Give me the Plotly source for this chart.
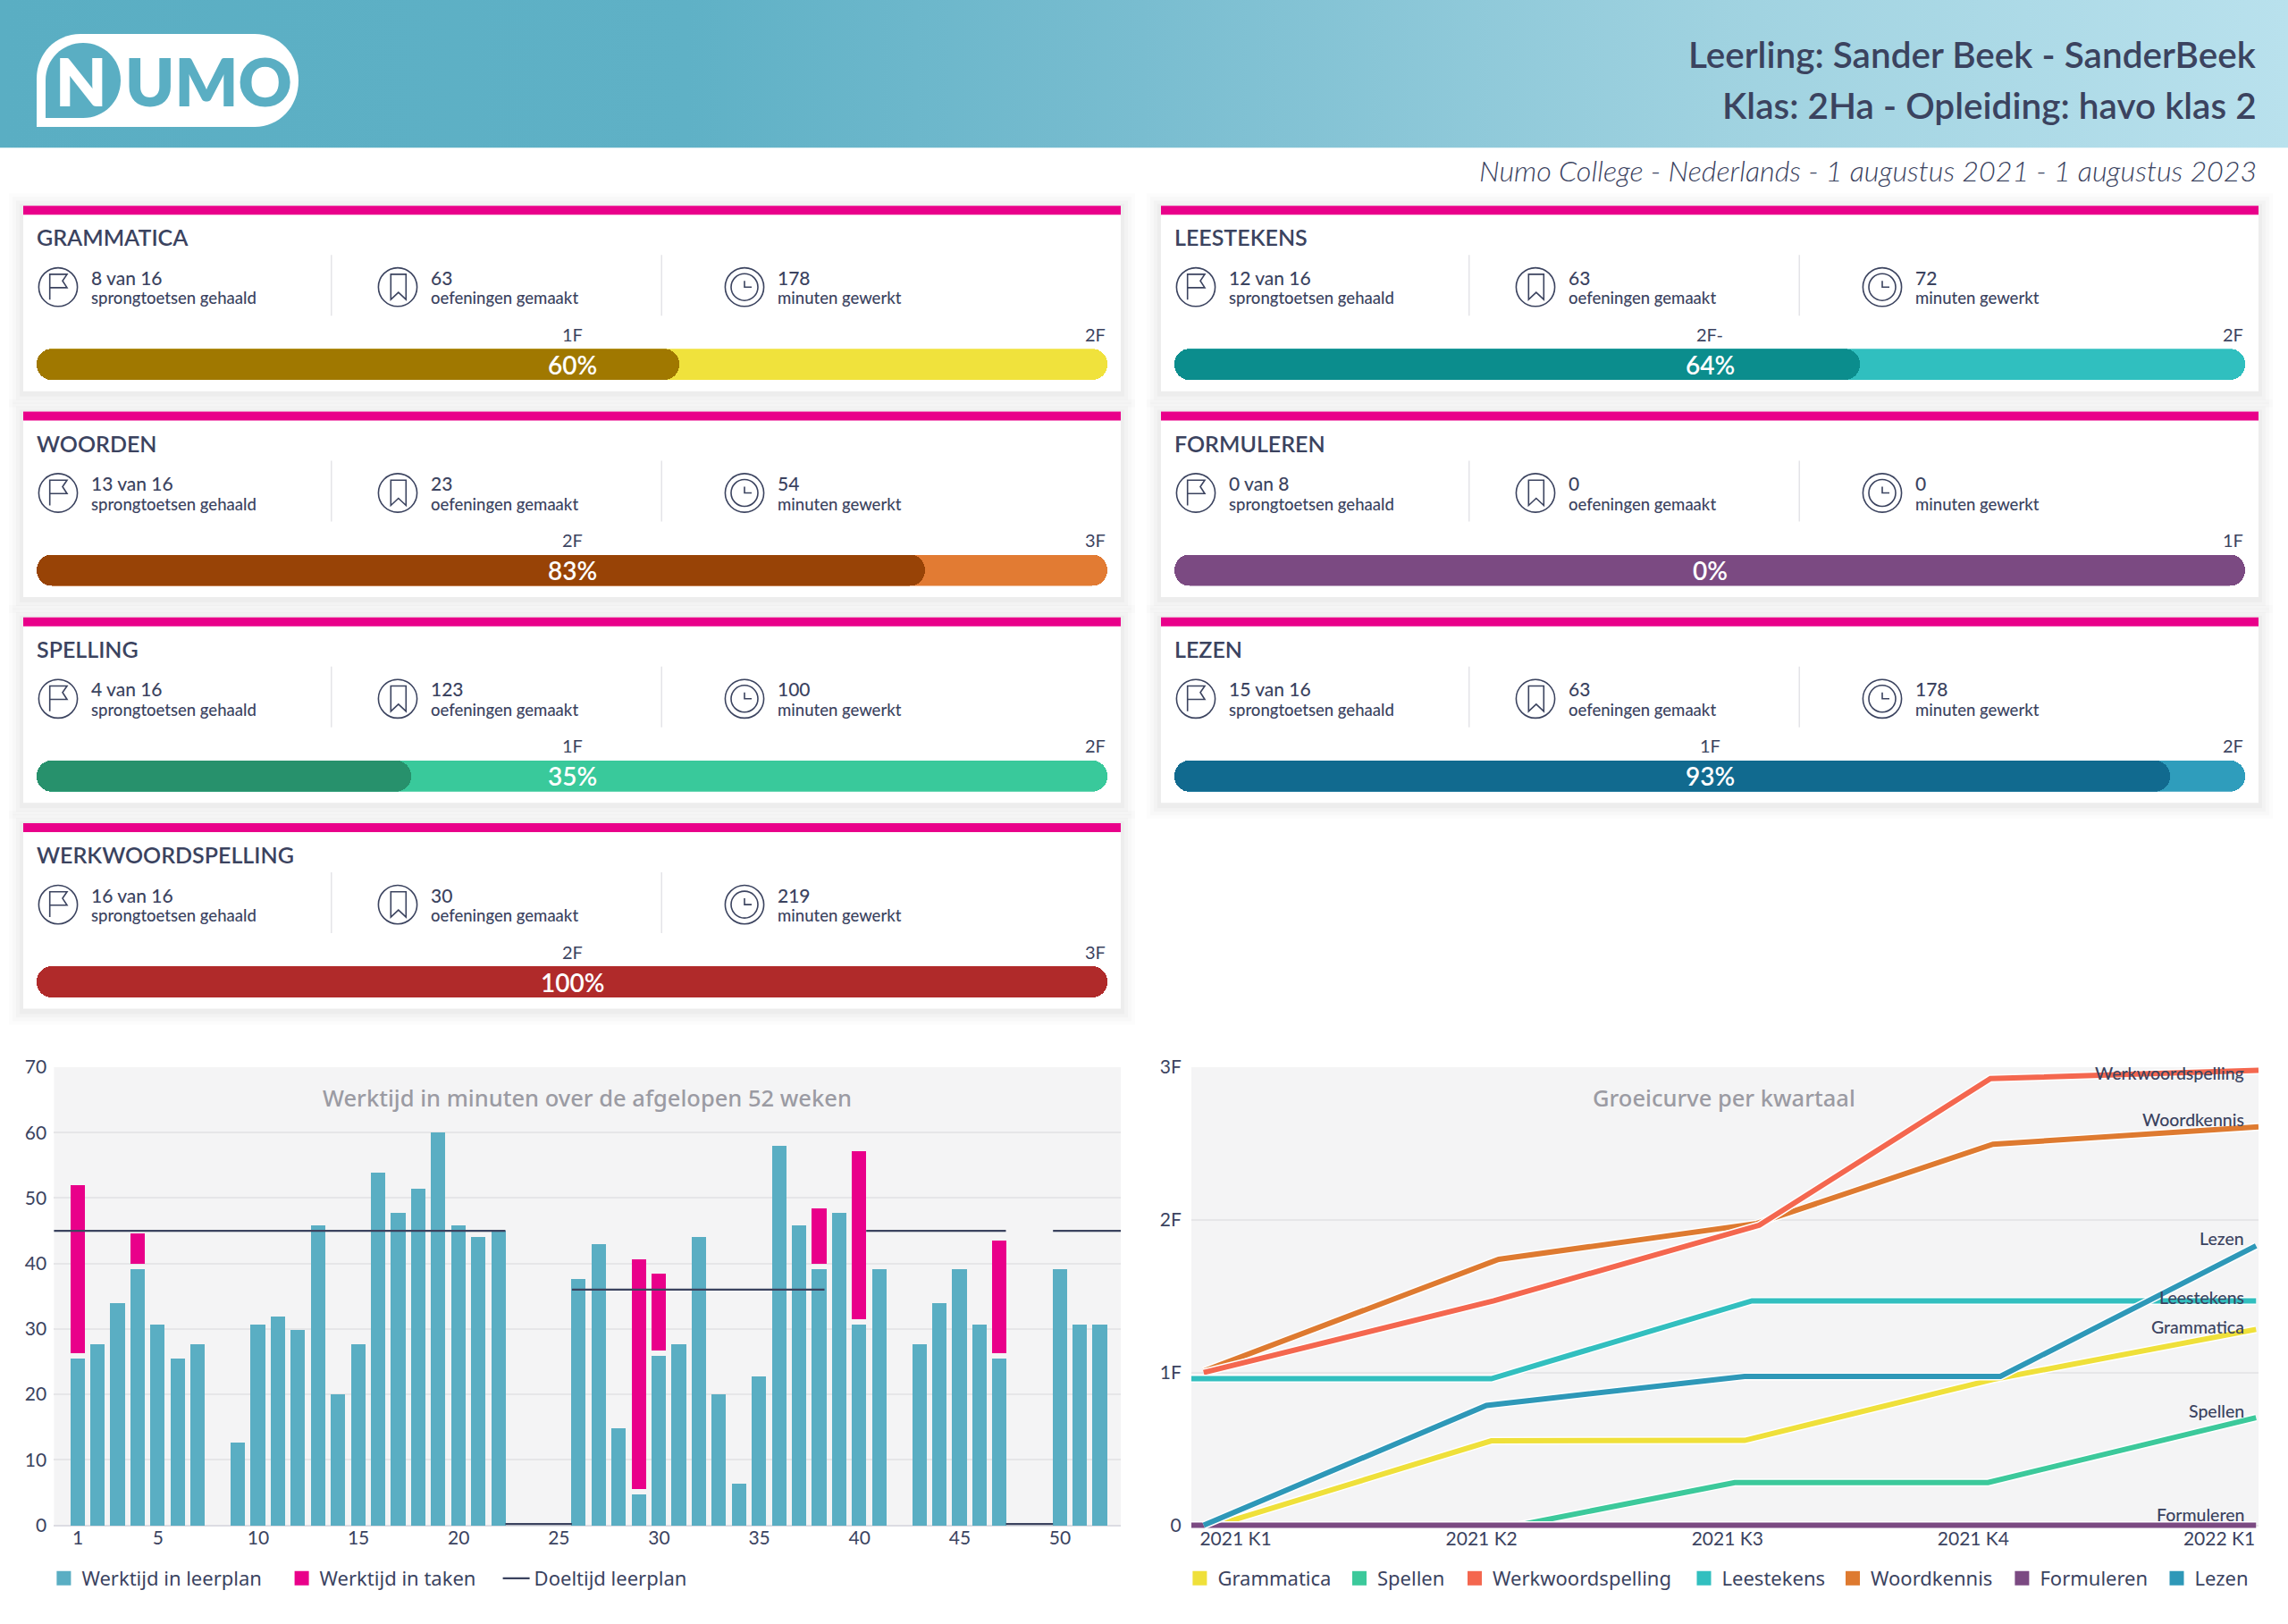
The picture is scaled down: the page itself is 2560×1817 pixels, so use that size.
import plotly.graph_objects as go

W, H = 2560, 1817
FONT = "Lato"
INK = "#3b435f"
GREY = "#9b9ba3"

# ---- data: cards
card_titles = ["GRAMMATICA", "WOORDEN", "SPELLING", "WERKWOORDSPELLING", "LEESTEKENS", "FORMULEREN", "LEZEN"]
card_col = [0, 0, 0, 0, 1, 1, 1]
card_row = [0, 1, 2, 3, 0, 1, 2]
card_goals = ["8 van 16", "13 van 16", "4 van 16", "16 van 16", "12 van 16", "0 van 8", "15 van 16"]
card_exercises = ["63", "23", "123", "30", "63", "0", "63"]
card_minutes = ["178", "54", "100", "219", "72", "0", "178"]
card_mid = ["1F", "2F", "1F", "2F", "2F-", "", "1F"]
card_end = ["2F", "3F", "2F", "3F", "2F", "1F", "2F"]
card_pct = [60, 83, 35, 100, 64, 0, 93]
card_fg = ["#a07800", "#984306", "#27916c", "#b02a2a", "#0b8d8d", "#7b4a82", "#116a8f"]
card_track = ["#f0e23c", "#e27b33", "#39c99b", "#b02a2a", "#30bfbf", "#7b4a82", "#2f9dbc"]

# ---- data: weekly chart
weeks = list(range(1, 53))
plan_minutes = [25.5, 27.7, 33.9, 39.1, 30.6, 25.5, 27.7, 0, 12.7, 30.6, 31.9, 29.8, 45.8, 20, 27.7, 53.9,
                47.8, 51.4, 60, 45.8, 44, 45, 0, 0, 0, 37.7, 43, 14.8, 4.7, 25.9, 27.7, 44, 20, 6.3, 22.8, 58,
                45.8, 39.1, 47.8, 30.6, 39.1, 0, 27.7, 33.9, 39.1, 30.6, 25.5, 0, 0, 39.1, 30.6, 30.6]
task_weeks = [1, 4, 29, 30, 38, 40, 47]
task_from = [26.3, 40, 5.5, 26.7, 40, 31.5, 26.3]
task_to = [52, 44.6, 40.6, 38.4, 48.4, 57.2, 43.5]
goal_start = [-1, 22.33, 25.65, 40.33, 47.3, 49.65]
goal_end = [22.33, 25.65, 38.25, 47.3, 49.65, 55]
goal_value = [45, 0.2, 36, 45, 0.2, 45]
week_ticks = [1, 5, 10, 15, 20, 25, 30, 35, 40, 45, 50]

# ---- data: growth chart
quarter_ticks = [0, 1, 2, 3, 4]
quarter_labels = ["2021 K1", "2021 K2", "2021 K3", "2021 K4", "2022 K1"]
gram_x = [-0.08, 1.04, 2.07, 3.08, 4.15]
gram_y = [0.0, 0.553, 0.556, 0.955, 1.283]
spel_x = [1.15, 2.03, 3.06, 4.15]
spel_y = [0.0, 0.28, 0.28, 0.705]
werk_x = [-0.13, 1.05, 2.13, 3.07, 4.16]
werk_y = [1.0, 1.47, 1.965, 2.925, 2.98]
lees_x = [-0.18, 1.04, 2.1, 4.15]
lees_y = [0.96, 0.96, 1.47, 1.47]
woor_x = [-0.13, 1.07, 2.12, 3.08, 4.16]
woor_y = [1.01, 1.742, 1.976, 2.495, 2.61]
form_x = [-0.18, 4.15]
form_y = [0.0, 0.0]
leze_x = [-0.13, 1.02, 2.07, 3.11, 4.15]
leze_y = [0.0, 0.785, 0.975, 0.975, 1.83]

line_names = ["Grammatica", "Spellen", "Werkwoordspelling", "Leestekens", "Woordkennis", "Formuleren", "Lezen"]
line_colors = ["#efe03a", "#3cc99b", "#f4674f", "#32bfbf", "#de7a30", "#7b4a82", "#2e98b8"]
line_x = [gram_x, spel_x, werk_x, lees_x, woor_x, form_x, leze_x]
line_y = [gram_y, spel_y, werk_y, lees_y, woor_y, form_y, leze_y]
draw_order = [0, 1, 4, 2, 3, 5, 6]
end_labels = ["Werkwoordspelling", "Woordkennis", "Lezen", "Leestekens", "Grammatica", "Spellen", "Formuleren"]
end_label_y = [2.96, 2.66, 1.88, 1.49, 1.30, 0.75, 0.07]

left_legend_names = ["Werktijd in leerplan", "Werktijd in taken", "Doeltijd leerplan"]
left_legend_text_x = [91.4, 357.6, 597.6]
right_legend_text_x = [1362.4, 1541, 1670, 1926.5, 2093, 2282.4, 2455.5]

header_stops = [[0, "#5aaec3"], [0.3, "#5fb1c6"], [0.5, "#79bdd0"], [0.75, "#9fd2e0"], [1, "#b9e1ed"]]


def fx(x):
    return x / W


def fy(y):
    return 1 - y / H


def path(points, close=True):
    s = "M" + " L".join(f"{fx(x):.5f},{fy(y):.5f}" for x, y in points)
    return s + (" Z" if close else "")


def curve_path(cmds):
    out = []
    for c in cmds:
        if c[0] == "Z":
            out.append("Z")
        else:
            vals = c[1:]
            nums = []
            for i in range(0, len(vals), 2):
                nums.append(f"{fx(vals[i]):.5f},{fy(vals[i + 1]):.5f}")
            out.append(c[0] + " ".join(nums))
    return " ".join(out)


shapes, annos, traces = [], [], []
layout_axes = {}
legends = {}


def rect(x0, y0, x1, y1, color, opacity=1, layer="below"):
    shapes.append(dict(type="rect", xref="paper", yref="paper", x0=fx(x0), x1=fx(x1), y0=fy(y0), y1=fy(y1),
                       fillcolor=color, opacity=opacity, line_width=0, layer=layer))


def circle(cx, cy, r, width=1.6):
    shapes.append(dict(type="circle", xref="paper", yref="paper", x0=fx(cx - r), x1=fx(cx + r), y0=fy(cy - r),
                       y1=fy(cy + r), line=dict(color=INK, width=width), fillcolor="rgba(0,0,0,0)", layer="below"))


def stroke(points, close=False, width=1.6):
    shapes.append(dict(type="path", xref="paper", yref="paper", path=path(points, close),
                       line=dict(color=INK, width=width), layer="below"))


def text(x, y, s, size, color=INK, anchor="left", weight=400, style="normal", family=FONT):
    annos.append(dict(x=fx(x), y=fy(y), xref="paper", yref="paper",
                      text=s, showarrow=False, xanchor=anchor, yanchor="middle",
                      font=dict(family=family, size=size, color=color, weight=weight, style=style)))


def one_item_legend(key, text_x):
    legends[key] = dict(orientation="h", x=fx(text_x - 40), y=fy(1766), xanchor="left", yanchor="middle",
                        font=dict(family="Noto Sans", size=22, color=INK), bgcolor="rgba(0,0,0,0)")


# header gradient drawn through its own hidden axes
layout_axes["xaxis"] = dict(domain=[0, 1], range=[0, 1], visible=False, fixedrange=True)
layout_axes["yaxis"] = dict(domain=[fy(165.5), 1], range=[0, 1], visible=False, fixedrange=True)
traces.append(go.Scatter(x=[0, 1, 1, 0, 0], y=[0, 0, 1, 1, 0], mode="none", fill="toself", showlegend=False,
                         fillgradient=dict(type="horizontal", colorscale=header_stops), hoverinfo="skip",
                         xaxis="x", yaxis="y"))

# logo
shapes.append(dict(type="path", xref="paper", yref="paper", layer="above", fillcolor="#ffffff", line_width=0,
                   path=curve_path([("M", 41, 142), ("L", 41, 88), ("C", 41, 60, 62, 38, 90, 38), ("L", 285, 38),
                                    ("C", 312, 38, 334, 60, 334, 90), ("C", 334, 120, 312, 142, 285, 142), ("Z",)])))
shapes.append(dict(type="path", xref="paper", yref="paper", layer="above", fillcolor="#5aaec3", line_width=0,
                   path=curve_path([("M", 51, 132), ("L", 51, 90), ("C", 51, 66, 70, 48, 93, 48),
                                    ("C", 116, 48, 135, 66, 135, 90), ("C", 135, 114, 116, 132, 93, 132), ("Z",)])))
text(91, 91, "N", 74, "#ffffff", "center", 800)
text(233, 91, "UMO", 74, "#5aaec3", "center", 800)

# header texts
text(2527, 60.5, "Leerling: Sander Beek - SanderBeek", 40.5, INK, "right", 600)
text(2527, 117.5, "Klas: 2Ha - Opleiding: havo klas 2", 40.5, INK, "right", 600)
text(2527, 190.5, "Numo College - Nederlands - 1 augustus 2021 - 1 augustus 2023", 32.3, INK, "right", 300, "italic")

# cards
col_left = [26, 1299]
col_right = [1254, 2527]
top0, pitch = 230.2, 230.3
for i, title in enumerate(card_titles):
    L, R = col_left[card_col[i]], col_right[card_col[i]]
    T = top0 + pitch * card_row[i]
    B = T + 207.5
    for grow, op in [(16, 0.012), (12, 0.014), (8, 0.018), (4, 0.022)]:
        rect(L - grow, T - grow + 2, R + grow, B + grow + 2, "#000000", op)
    rect(L, T, R, B, "#ffffff")
    rect(L, T, R, T + 10, "#e9008a")
    text(L + 13, T + 35, title, 25, INK, "left", 600)
    ox = L - 26
    # stat row icons
    cy = T + 91
    circle(ox + 65, cy, 21.6)
    stroke([(ox + 55.7, cy + 14), (ox + 55.7, cy - 14.3), (ox + 75, cy - 14.3), (ox + 70, cy - 7), (ox + 75, cy + 0.7),
            (ox + 55.7, cy + 0.7)])
    circle(ox + 445, cy, 21.6)
    stroke([(ox + 437.3, cy + 14), (ox + 437.3, cy - 14.3), (ox + 454.3, cy - 14.3), (ox + 454.3, cy + 14),
            (ox + 445.8, cy + 6)], close=True)
    circle(ox + 833, cy, 21.6)
    circle(ox + 833, cy, 15)
    stroke([(ox + 833, cy - 7), (ox + 833, cy), (ox + 841, cy)])
    # separators
    rect(ox + 370, T + 55, ox + 371.5, T + 123, "#e4e4e8")
    rect(ox + 739.5, T + 55, ox + 741, T + 123, "#e4e4e8")
    # stat texts
    for tx, big, small in [(100, card_goals[i], "sprongtoetsen gehaald"), (480, card_exercises[i], "oefeningen gemaakt"),
                           (868, card_minutes[i], "minuten gewerkt")]:
        text(ox + tx, T + 80, big, 21, INK, weight=500)
        text(ox + tx, T + 103, small, 18.5, INK, weight=500)
    # progress bar on its own axes, 0-100 %
    n = i + 2
    xname, yname = f"x{n}", f"y{n}"
    bar_l, bar_r = L + 15, R - 15
    layout_axes[f"xaxis{n}"] = dict(domain=[fx(bar_l), fx(bar_r)], range=[0, 100], visible=False, fixedrange=True,
                                    anchor=yname)
    layout_axes[f"yaxis{n}"] = dict(domain=[fy(T + 195), fy(T + 160)], range=[-0.5, 0.5], visible=False,
                                    fixedrange=True, anchor=xname)


    def bar(length, color):
        traces.append(go.Bar(y=[0], x=[length], base=[0], orientation="h", width=1, showlegend=False,
                             marker=dict(color=color, cornerradius="50%", line_width=0), hoverinfo="skip",
                             xaxis=xname, yaxis=yname))


    bar(100, card_track[i])
    p = card_pct[i]
    if p > 0:
        bar(p, card_fg[i])
    annos.append(dict(x=50, y=0, xref=xname, yref=yname, text=f"{p}%", showarrow=False, xanchor="center",
                      yanchor="middle", font=dict(family=FONT, size=28, color="#ffffff", weight=600)))
    if card_mid[i]:
        annos.append(dict(x=50, y=0, xref=xname, yref=yname, yshift=34, text=card_mid[i], showarrow=False,
                          xanchor="center", yanchor="middle", font=dict(family=FONT, size=20, color=INK)))
    annos.append(dict(x=100, y=0, xref=xname, yref=yname, yshift=34, text=card_end[i], showarrow=False,
                      xanchor="right", yanchor="middle", font=dict(family=FONT, size=20, color=INK)))

# chart backgrounds
rect(60.4, 1194, 1254, 1706.5, "#f4f4f5")
rect(1333, 1194, 2527, 1706.5, "#f4f4f5")

# weekly chart
axis_font = dict(family=FONT, size=21, color=INK)
layout_axes["xaxis9"] = dict(domain=[fx(60.4), fx(1254)], range=[-0.19, 53.03], anchor="y9", tickvals=week_ticks,
                             ticks="", ticklabelstandoff=-4, showgrid=False, zeroline=False,
                             showline=False, tickfont=axis_font, fixedrange=True)
layout_axes["yaxis9"] = dict(domain=[fy(1710.2), fy(1194)], range=[-0.5, 70], anchor="x9",
                             tickvals=list(range(0, 71, 10)), ticks="outside", ticklen=3,
                             tickcolor="rgba(0,0,0,0)", gridcolor="#e6e6e8", gridwidth=2,
                             zeroline=True, zerolinecolor="#dcdce2", zerolinewidth=2, tickfont=axis_font,
                             fixedrange=True)
traces.append(go.Bar(x=weeks, y=plan_minutes, width=0.72, marker=dict(color="#5aaec3", line_width=0),
                     name="Werktijd in leerplan", showlegend=False, xaxis="x9", yaxis="y9"))
traces.append(go.Bar(x=task_weeks, y=[t - f for t, f in zip(task_to, task_from)], base=task_from, width=0.72,
                     marker=dict(color="#e9008a", line_width=0), name="Werktijd in taken", showlegend=False,
                     xaxis="x9", yaxis="y9"))
gx, gy = [], []
for s, e, v in zip(goal_start, goal_end, goal_value):
    gx += [s, e, None]
    gy += [v, v, None]
traces.append(go.Scatter(x=gx, y=gy, mode="lines", line=dict(color="#3b435f", width=2.2), name="Doeltijd leerplan",
                         legend="legend3", xaxis="x9", yaxis="y9"))
one_item_legend("legend3", left_legend_text_x[2])
for key, nm, col, tx in [("legend", left_legend_names[0], "#5aaec3", left_legend_text_x[0]),
                         ("legend2", left_legend_names[1], "#e9008a", left_legend_text_x[1])]:
    traces.append(go.Scatter(x=[None], y=[None], mode="markers", name=nm, legend=key,
                             marker=dict(symbol="square", size=16, color=col), xaxis="x9", yaxis="y9"))
    one_item_legend(key, tx)
annos.append(dict(x=26.4, y=65.4, xref="x9", yref="y9", text="Werktijd in minuten over de afgelopen 52 weken",
                  showarrow=False, font=dict(family="Noto Sans", size=25.5, color=GREY, weight=500)))

# growth chart
layout_axes["xaxis10"] = dict(domain=[fx(1333), fx(2527)], range=[-0.18, 4.16], anchor="y10", tickvals=quarter_ticks,
                              ticktext=quarter_labels, ticks="", ticklabelstandoff=-4,
                              showgrid=False, zeroline=False, tickfont=axis_font, fixedrange=True)
layout_axes["yaxis10"] = dict(domain=[fy(1710.8), fy(1194)], range=[-0.025, 3], anchor="x10", tickvals=[0, 1, 2, 3],
                              ticktext=["0", "1F", "2F", "3F"], ticks="outside", ticklen=6,
                              tickcolor="rgba(0,0,0,0)", gridcolor="#e6e6e8", gridwidth=2, zeroline=False,
                              tickfont=axis_font, fixedrange=True)
for k in draw_order:
    traces.append(go.Scatter(x=line_x[k], y=line_y[k], mode="lines", line=dict(color="#ffffff", width=9),
                             showlegend=False, hoverinfo="skip", xaxis="x10", yaxis="y10"))
    traces.append(go.Scatter(x=line_x[k], y=line_y[k], mode="lines", line=dict(color=line_colors[k], width=6),
                             name=line_names[k], showlegend=False, xaxis="x10", yaxis="y10"))
for j, (nm, col) in enumerate(zip(line_names, line_colors)):
    key = f"legend{j + 4}"
    traces.append(go.Scatter(x=[None], y=[None], mode="markers", name=nm, legend=key,
                             marker=dict(symbol="square", size=16, color=col), xaxis="x10", yaxis="y10"))
    one_item_legend(key, right_legend_text_x[j])
annos.append(dict(x=1.987, y=2.8, xref="x10", yref="y10", text="Groeicurve per kwartaal", showarrow=False,
                  font=dict(family="Noto Sans", size=25.5, color=GREY, weight=500)))
for nm, yv in zip(end_labels, end_label_y):
    annos.append(dict(x=4.11, y=yv, xref="x10", yref="y10", text=nm, showarrow=False, xanchor="right",
                      yanchor="middle", font=dict(family=FONT, size=19.5, color=INK, weight=500)))

fig = go.Figure(traces)
fig.update_layout(
    width=W, height=H, margin=dict(l=0, r=0, t=0, b=0, autoexpand=False), autosize=False,
    paper_bgcolor="#ffffff", plot_bgcolor="rgba(0,0,0,0)", barmode="overlay", bargap=0,
    shapes=shapes, annotations=annos, hovermode=False,
    **legends, **layout_axes,
)
fig.write_html("out.html", config={"displayModeBar": False},
               post_script="document.body.style.margin='0';document.body.style.overflow='hidden';")
